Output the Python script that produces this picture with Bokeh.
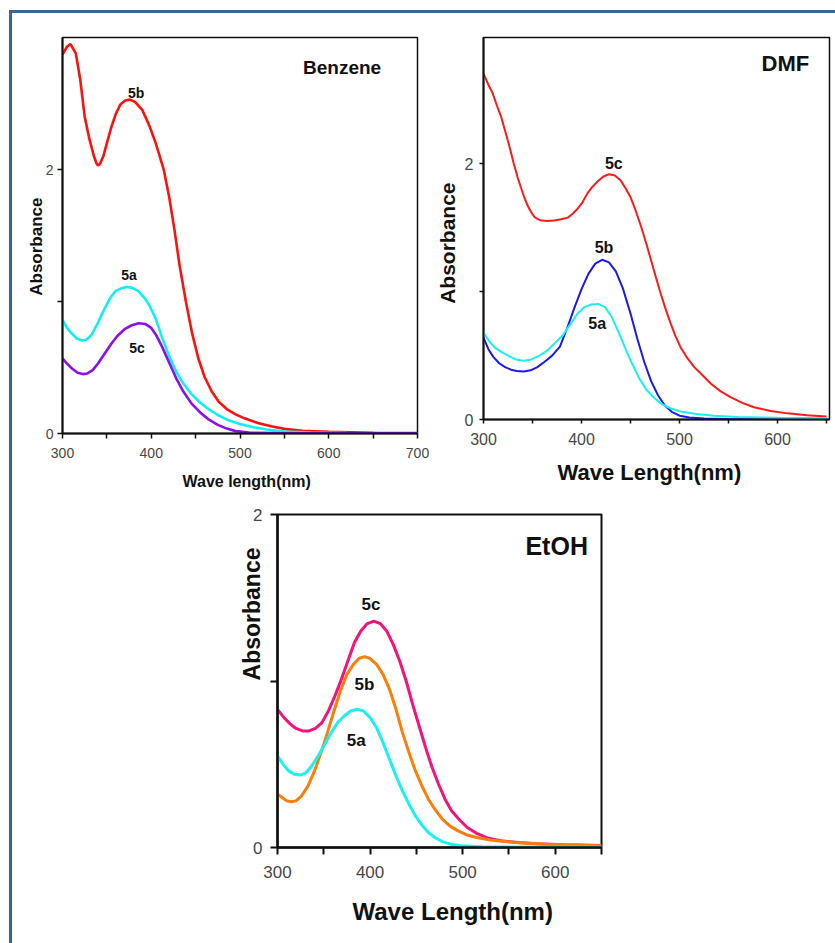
from bokeh.plotting import figure
from bokeh.models import FixedTicker, Label, Spacer, Title
from bokeh.layouts import column, row
from bokeh.embed import file_html
from bokeh.resources import INLINE

FONT = "Liberation Sans"
FRAME_BLUE = "#3b6597"

# ---------------- Benzene ----------------
benz_wl_5b = [300, 305, 309, 315, 320, 325, 330, 335, 338, 340, 342, 346, 350, 355, 360,
              365, 370, 376, 382, 390, 398, 405, 410, 414, 420, 426, 432, 439, 446, 453,
              460, 468, 476, 485, 495, 505, 520, 535, 550, 570, 600, 650, 700]
benz_abs_5b = [2.87, 2.93, 2.95, 2.88, 2.68, 2.40, 2.24, 2.11, 2.05, 2.03, 2.04, 2.10, 2.20,
               2.32, 2.42, 2.49, 2.52, 2.53, 2.51, 2.45, 2.33, 2.20, 2.09, 2.00, 1.80, 1.55,
               1.27, 1.00, 0.76, 0.57, 0.43, 0.32, 0.24, 0.185, 0.145, 0.115, 0.08, 0.055,
               0.035, 0.02, 0.012, 0.006, 0.003]

benz_wl_5a = [300, 305, 310, 316, 322, 327, 333, 340, 347, 354, 360, 366, 372, 378, 385,
              392, 398, 405, 412, 420, 428, 436, 445, 455, 465, 475, 487, 500, 515, 530,
              550, 580, 620, 700]
benz_abs_5a = [0.86, 0.80, 0.76, 0.72, 0.705, 0.71, 0.75, 0.84, 0.94, 1.03, 1.08, 1.10, 1.11,
               1.105, 1.08, 1.03, 0.97, 0.87, 0.73, 0.59, 0.47, 0.38, 0.30, 0.235, 0.182,
               0.14, 0.10, 0.072, 0.048, 0.03, 0.015, 0.007, 0.003, 0.002]

benz_wl_5c = [300, 305, 311, 317, 323, 328, 334, 340, 347, 355, 362, 370, 378, 386, 393,
              400, 406, 412, 420, 428, 436, 445, 455, 465, 475, 485, 495, 510, 540, 700]
benz_abs_5c = [0.57, 0.53, 0.49, 0.46, 0.45, 0.455, 0.48, 0.53, 0.60, 0.68, 0.74, 0.79, 0.82,
               0.835, 0.83, 0.80, 0.74, 0.66, 0.54, 0.42, 0.32, 0.23, 0.16, 0.105, 0.065,
               0.037, 0.018, 0.007, 0.003, 0.001]

# ---------------- DMF ----------------
dmf_wl_5c = [300, 305, 309, 314, 318, 322, 326, 331, 335, 338, 342, 345, 348, 352, 355,
             359, 365, 372, 379, 386, 391, 396, 401, 406, 411, 416, 422, 428, 434, 440,
             445, 450, 455, 461, 466, 471, 476, 481, 486, 491, 496, 501, 508, 515, 523,
             532, 542, 552, 564, 576, 593, 610, 630, 650]
dmf_abs_5c = [2.71, 2.62, 2.56, 2.45, 2.37, 2.26, 2.15, 2.00, 1.89, 1.82, 1.73, 1.675, 1.63,
              1.585, 1.57, 1.557, 1.553, 1.557, 1.567, 1.58, 1.61, 1.65, 1.70, 1.77, 1.82,
              1.86, 1.90, 1.92, 1.91, 1.87, 1.81, 1.74, 1.64, 1.505, 1.38, 1.244, 1.11,
              0.98, 0.86, 0.75, 0.65, 0.566, 0.48, 0.41, 0.35, 0.28, 0.22, 0.175, 0.13,
              0.096, 0.066, 0.048, 0.033, 0.024]

dmf_wl_5b = [300, 305, 310, 316, 322, 328, 334, 341, 348, 355, 362, 370, 378, 386, 393,
             400, 407, 414, 421, 428, 435, 442, 450, 457, 464, 471, 478, 485, 492, 500,
             510, 525, 550, 650]
dmf_abs_5b = [0.64, 0.55, 0.49, 0.44, 0.41, 0.39, 0.38, 0.375, 0.385, 0.41, 0.45, 0.50, 0.57,
              0.73, 0.88, 1.02, 1.14, 1.22, 1.25, 1.23, 1.16, 1.03, 0.83, 0.63, 0.45, 0.30,
              0.19, 0.11, 0.06, 0.03, 0.015, 0.007, 0.003, 0.002]

dmf_wl_5a = [300, 306, 312, 318, 325, 333, 341, 349, 357, 365, 373, 381, 389, 396, 403,
             410, 417, 424, 431, 438, 445, 452, 459, 466, 474, 482, 490, 500, 515, 535,
             560, 600, 650]
dmf_abs_5a = [0.68, 0.61, 0.56, 0.53, 0.50, 0.47, 0.46, 0.47, 0.50, 0.54, 0.60, 0.66, 0.75,
              0.83, 0.88, 0.90, 0.905, 0.88, 0.80, 0.68, 0.55, 0.43, 0.32, 0.235, 0.17, 0.12,
              0.09, 0.065, 0.045, 0.03, 0.02, 0.013, 0.01]

# ---------------- EtOH ----------------
etoh_wl_5c = [300, 307, 314, 320, 327, 334, 341, 348, 355, 362, 369, 376, 383, 390, 397,
              404, 411, 418, 425, 432, 439, 446, 453, 460, 467, 474, 481, 488, 496, 505,
              515, 528, 541, 560, 580, 610, 650]
etoh_abs_5c = [0.83, 0.78, 0.74, 0.715, 0.70, 0.70, 0.715, 0.75, 0.82, 0.91, 1.01, 1.12, 1.23,
               1.30, 1.345, 1.36, 1.345, 1.30, 1.22, 1.12, 1.00, 0.86, 0.73, 0.60, 0.48, 0.38,
               0.29, 0.22, 0.17, 0.12, 0.085, 0.055, 0.04, 0.03, 0.022, 0.016, 0.012]

etoh_wl_5b = [300, 305, 310, 315, 320, 326, 333, 340, 347, 354, 361, 368, 375, 382, 388,
              394, 400, 407, 414, 421, 428, 435, 442, 449, 456, 463, 470, 478, 486, 495,
              505, 515, 530, 556, 590, 650]
etoh_abs_5b = [0.32, 0.30, 0.28, 0.275, 0.28, 0.31, 0.37, 0.46, 0.57, 0.69, 0.82, 0.94, 1.04,
               1.10, 1.135, 1.146, 1.135, 1.10, 1.04, 0.95, 0.83, 0.69, 0.57, 0.46, 0.37,
               0.29, 0.23, 0.17, 0.13, 0.10, 0.075, 0.06, 0.045, 0.03, 0.02, 0.01]

etoh_wl_5a = [300, 306, 312, 318, 325, 331, 337, 344, 351, 358, 365, 372, 379, 386, 393,
              400, 407, 414, 421, 428, 435, 442, 449, 456, 463, 470, 478, 487, 498, 520, 650]
etoh_abs_5a = [0.55, 0.50, 0.46, 0.44, 0.435, 0.45, 0.49, 0.55, 0.62, 0.69, 0.75, 0.79, 0.82,
               0.83, 0.82, 0.78, 0.72, 0.63, 0.53, 0.43, 0.34, 0.26, 0.19, 0.135, 0.09, 0.06,
               0.035, 0.02, 0.01, 0.004, 0.002]


def make_panel(width, height, borders, x_end, y_end, x_major, x_minor, y_ticks, y_shown,
               tick_size, axis_w, outline_w, tick_out, x_label_standoff, y_label_standoff):
    left, right, top, bottom = borders
    p = figure(width=width, height=height, x_range=(300, x_end), y_range=(0, y_end),
               output_backend="svg", toolbar_location=None, title=None,
               min_border_left=left, min_border_right=right,
               min_border_top=top, min_border_bottom=bottom)
    p.xgrid.visible = False
    p.ygrid.visible = False
    p.background_fill_color = "white"
    p.border_fill_color = "white"
    p.outline_line_color = "#111111"
    p.outline_line_width = outline_w

    p.xaxis.ticker = FixedTicker(ticks=x_major, minor_ticks=x_minor)
    p.yaxis.ticker = FixedTicker(ticks=y_ticks)
    p.yaxis.major_label_overrides = {t: ("" if t not in y_shown else str(t)) for t in y_ticks}

    for ax in (p.xaxis[0], p.yaxis[0]):
        ax.axis_line_color = "#111111"
        ax.axis_line_width = axis_w
        ax.major_tick_line_color = "#111111"
        ax.major_tick_line_width = max(1, axis_w - 0.5)
        ax.major_tick_out = tick_out
        ax.major_tick_in = 0
        ax.minor_tick_line_color = "#111111"
        ax.minor_tick_line_width = max(1, axis_w - 0.5)
        ax.minor_tick_out = tick_out
        ax.minor_tick_in = 0
        ax.major_label_text_font = FONT
        ax.major_label_text_font_size = tick_size
        ax.major_label_text_color = "#474747"

    p.xaxis.major_label_standoff = x_label_standoff
    p.yaxis.major_label_standoff = y_label_standoff
    return p


def axis_titles(p, xtext, xsize, xoffset, xstandoff, ytext, ysize, yoffset, ystandoff):
    p.add_layout(Title(text=xtext, align="left", offset=xoffset, standoff=xstandoff,
                       text_font=FONT, text_font_style="bold", text_font_size=xsize,
                       text_color="#111111"), "below")
    p.add_layout(Title(text=ytext, align="right", offset=yoffset, standoff=ystandoff,
                       text_font=FONT, text_font_style="bold", text_font_size=ysize,
                       text_color="#111111"), "left")


def tag(p, x, y, text, size):
    p.add_layout(Label(x=x, y=y, text=text, text_align="center", text_baseline="middle",
                       text_font=FONT, text_font_style="bold", text_font_size=size,
                       text_color="#111111"))


# Benzene panel
p1 = make_panel(417, 24 + 396 + 70, (50, 12, 24, 70), 700, 3,
                [300, 400, 500, 600, 700], [350, 450, 550, 650], [0, 1, 2], [0, 2],
                "14px", 2, 1.5, 5, 9, 4)
p1.line(benz_wl_5b, benz_abs_5b, line_color="#ff1010", line_width=2.6)
p1.line(benz_wl_5a, benz_abs_5a, line_color="#10f0f0", line_width=2.6)
p1.line(benz_wl_5c, benz_abs_5c, line_color="#8a10f0", line_width=2.6)
tag(p1, 615, 2.77, "Benzene", "19px")
tag(p1, 383, 2.58, "5b", "14px")
tag(p1, 375, 1.20, "5a", "14px")
tag(p1, 384, 0.65, "5c", "14px")
axis_titles(p1, "Wave length(nm)", "16px", 120, 20, "Absorbance", "17px", 160, -6)

# DMF panel (shorter frame; padded underneath to the height of the Benzene panel)
p2 = make_panel(406, 24 + 382 + 78, (54, 6, 24, 78), 653, 2.99,
                [300, 400, 500, 600], [350, 450, 550, 650], [0, 1, 2], [0, 2],
                "16px", 2, 1.5, 4, 9, 6)
p2.line(dmf_wl_5c, dmf_abs_5c, line_color="#ff1a1a", line_width=2)
p2.line(dmf_wl_5b, dmf_abs_5b, line_color="#1a1aee", line_width=2)
p2.line(dmf_wl_5a, dmf_abs_5a, line_color="#1af0f0", line_width=2)
tag(p2, 608, 2.79, "DMF", "22px")
tag(p2, 433, 2.00, "5c", "16px")
tag(p2, 423, 1.35, "5b", "16px")
tag(p2, 416, 0.75, "5a", "16px")
axis_titles(p2, "Wave Length(nm)", "22px", 74, 20, "Absorbance", "21px", 145, 6)

# EtOH panel
p3 = make_panel(381, 11 + 333 + 96, (47, 10, 11, 96), 650, 2,
                [300, 400, 500, 600], [350, 450, 550, 650], [0, 1, 2], [0, 2],
                "17px", 2.5, 2, 7, 11, 8)
p3.line(etoh_wl_5c, etoh_abs_5c, line_color="#f5127a", line_width=3)
p3.line(etoh_wl_5b, etoh_abs_5b, line_color="#fb7d0c", line_width=3)
p3.line(etoh_wl_5a, etoh_abs_5a, line_color="#1ef0f0", line_width=3)
tag(p3, 601.6, 1.81, "EtOH", "25px")
tag(p3, 401, 1.46, "5c", "17px")
tag(p3, 394, 0.98, "5b", "17px")
tag(p3, 385, 0.64, "5a", "17px")
axis_titles(p3, "Wave Length(nm)", "24px", 75, 30, "Absorbance", "23px", 33, -28)

# Page frame: blue rule along the top and left edges
top_gap = Spacer(width=835, height=10)
top_rule = row(Spacer(width=9, height=3),
               Spacer(width=826, height=3, styles={"background-color": FRAME_BLUE}))
row_a = row(column(p1), column(p2, Spacer(width=406, height=6)))
row_b = row(Spacer(width=218, height=440), p3)
panels = column(row_a, row_b)
body = row(Spacer(width=9, height=930),
           Spacer(width=3, height=930, styles={"background-color": FRAME_BLUE}),
           panels)
page = column(top_gap, top_rule, body)

open("out.html", "w").write(file_html(page, INLINE))
